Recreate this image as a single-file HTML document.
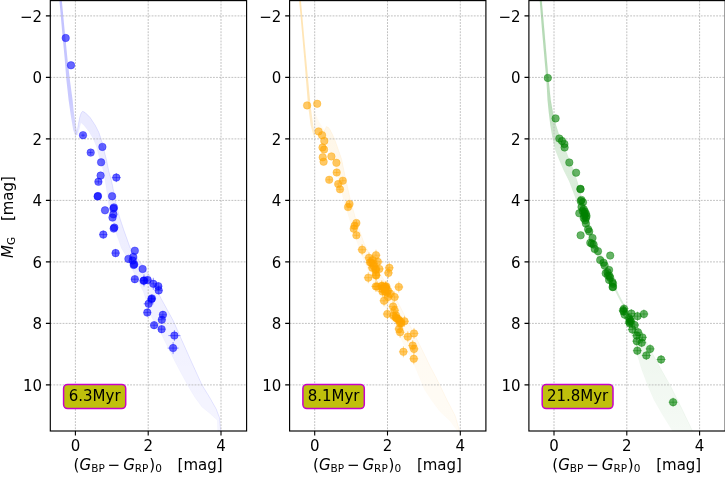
<!DOCTYPE html>
<html><head><meta charset="utf-8"><title>CMD</title>
<style>html,body{margin:0;padding:0;background:#fff}body{width:725px;height:477px;overflow:hidden}</style></head>
<body>
<svg width="725" height="477" viewBox="0 0 725 477" style="display:block;will-change:transform;font-family:'DejaVu Sans','Liberation Sans',sans-serif">
<rect width="725" height="477" fill="#fff"/>
<defs>
<clipPath id="c0"><rect x="50.3" y="0.6" width="196.3" height="430.4"/></clipPath>
<clipPath id="c1"><rect x="289.6" y="0.6" width="196.3" height="430.4"/></clipPath>
<clipPath id="c2"><rect x="528.9" y="0.6" width="196.3" height="430.4"/></clipPath>
</defs>
<g clip-path="url(#c0)">
<linearGradient id="g0_0" gradientUnits="userSpaceOnUse" x1="0" y1="0" x2="0" y2="431"><stop offset="0.0000" stop-color="#0000ff" stop-opacity="0.24"/><stop offset="0.2320" stop-color="#0000ff" stop-opacity="0.21"/><stop offset="0.3109" stop-color="#0000ff" stop-opacity="0.13"/></linearGradient>
<polygon points="61.7,-1.0 64.6,30.0 67.6,60.0 69.9,80.0 72.6,100.0 73.8,112.0 75.7,125.0 77.0,131.5 75.7,136.5 73.2,130.0 70.7,115.0 68.6,100.0 66.4,80.0 64.8,60.0 62.0,30.0 59.3,-1.0" fill="url(#g0_0)" stroke="#0000ff" stroke-opacity="0.000" stroke-width="0.8" stroke-linejoin="round"/>
<linearGradient id="g0_1" gradientUnits="userSpaceOnUse" x1="0" y1="0" x2="0" y2="431"><stop offset="0.2552" stop-color="#0000ff" stop-opacity="0.08"/><stop offset="0.5800" stop-color="#0000ff" stop-opacity="0.065"/><stop offset="1.0000" stop-color="#0000ff" stop-opacity="0.04"/></linearGradient>
<polygon points="76.2,135.0 77.6,128.9 78.6,123.0 79.8,117.0 81.2,112.8 82.6,111.3 85.2,112.6 90.2,117.6 95.2,125.2 99.0,132.7 101.5,140.3 104.0,150.3 106.5,160.0 109.0,172.0 111.4,180.3 114.0,193.0 116.4,205.5 119.5,217.0 124.0,230.6 130.3,248.2 140.0,262.0 150.0,276.0 161.2,298.7 173.3,320.8 182.2,341.0 192.0,363.0 202.0,385.0 210.0,398.0 216.3,409.2 219.6,418.0 220.7,431.0 217.8,431.0 217.4,420.2 210.0,413.5 202.0,407.0 195.0,397.5 188.8,387.2 181.0,373.0 173.4,358.6 161.3,334.0 151.2,316.4 143.5,292.0 132.5,270.0 128.0,259.0 121.4,248.2 115.2,230.6 111.5,217.0 108.9,205.5 107.0,193.0 105.1,180.3 103.5,172.0 101.3,163.0 98.6,155.0 96.5,146.5 93.3,139.0 88.9,131.4 83.9,125.2 80.8,122.6 79.6,128.0 77.6,135.0" fill="url(#g0_1)" stroke="#0000ff" stroke-opacity="0.030" stroke-width="0.8" stroke-linejoin="round"/>
<polyline points="76.2,135.0 77.6,128.9 78.6,123.0 79.8,117.0 81.2,112.8 82.6,111.3 85.2,112.6 90.2,117.6 95.2,125.2 99.0,132.7 101.5,140.3 104.0,150.3 106.5,160.0 109.0,172.0 111.4,180.3 114.0,193.0 116.4,205.5 119.5,217.0 124.0,230.6 130.3,248.2 140.0,262.0 150.0,276.0 161.2,298.7 173.3,320.8 182.2,341.0 192.0,363.0 202.0,385.0 210.0,398.0 216.3,409.2 219.6,418.0 220.7,431.0" fill="none" stroke="#0000ff" stroke-opacity="0.085" stroke-width="0.9" stroke-linejoin="round"/>
</g>
<path d="M75.40 0.6V431.0M148.20 0.6V431.0M221.00 0.6V431.0M50.3 15.90H246.60000000000002M50.3 77.40H246.60000000000002M50.3 138.90H246.60000000000002M50.3 200.40H246.60000000000002M50.3 261.90H246.60000000000002M50.3 323.40H246.60000000000002M50.3 384.90H246.60000000000002" stroke="#b0b0b0" stroke-width="0.8" stroke-dasharray="1.85 1.22" fill="none"/>
<g clip-path="url(#c0)" fill="#0000ff" fill-opacity="0.6" stroke="#0000ff" stroke-opacity="0.6" stroke-width="0.7">
<circle cx="65.7" cy="38.0" r="3.75" stroke-width="0.9" stroke-opacity="0.4"/>
<circle cx="71.0" cy="65.3" r="3.75" stroke-width="0.9" stroke-opacity="0.4"/>
<circle cx="83.0" cy="135.2" r="3.75" stroke-width="0.9" stroke-opacity="0.4"/>
<circle cx="102.4" cy="146.9" r="3.75" stroke-width="0.9" stroke-opacity="0.4"/>
<circle cx="90.7" cy="152.6" r="3.75" stroke-width="0.9" stroke-opacity="0.4"/>
<circle cx="101.1" cy="162.3" r="3.75" stroke-width="0.9" stroke-opacity="0.4"/>
<circle cx="100.6" cy="175.6" r="3.75" stroke-width="0.9" stroke-opacity="0.4"/>
<circle cx="116.3" cy="177.6" r="3.75" stroke-width="0.9" stroke-opacity="0.4"/>
<circle cx="98.4" cy="181.8" r="3.75" stroke-width="0.9" stroke-opacity="0.4"/>
<circle cx="98.0" cy="196.0" r="3.75" stroke-width="0.9" stroke-opacity="0.4"/>
<circle cx="97.6" cy="196.4" r="3.75" stroke-width="0.9" stroke-opacity="0.4"/>
<circle cx="112.1" cy="196.2" r="3.75" stroke-width="0.9" stroke-opacity="0.4"/>
<circle cx="105.0" cy="210.3" r="3.75" stroke-width="0.9" stroke-opacity="0.4"/>
<circle cx="113.9" cy="207.4" r="3.75" stroke-width="0.9" stroke-opacity="0.4"/>
<circle cx="113.5" cy="208.6" r="3.75" stroke-width="0.9" stroke-opacity="0.4"/>
<circle cx="113.4" cy="214.3" r="3.75" stroke-width="0.9" stroke-opacity="0.4"/>
<circle cx="112.5" cy="217.6" r="3.75" stroke-width="0.9" stroke-opacity="0.4"/>
<circle cx="114.3" cy="227.6" r="3.75" stroke-width="0.9" stroke-opacity="0.4"/>
<circle cx="113.7" cy="228.6" r="3.75" stroke-width="0.9" stroke-opacity="0.4"/>
<circle cx="103.3" cy="234.6" r="3.75" stroke-width="0.9" stroke-opacity="0.4"/>
<circle cx="115.6" cy="253.1" r="3.75" stroke-width="0.9" stroke-opacity="0.4"/>
<circle cx="134.8" cy="250.7" r="3.75" stroke-width="0.9" stroke-opacity="0.4"/>
<circle cx="128.4" cy="258.9" r="3.75" stroke-width="0.9" stroke-opacity="0.4"/>
<circle cx="133.3" cy="256.9" r="3.75" stroke-width="0.9" stroke-opacity="0.4"/>
<circle cx="132.6" cy="260.6" r="3.75" stroke-width="0.9" stroke-opacity="0.4"/>
<circle cx="134.2" cy="264.3" r="3.75" stroke-width="0.9" stroke-opacity="0.4"/>
<circle cx="133.7" cy="265.0" r="3.75" stroke-width="0.9" stroke-opacity="0.4"/>
<circle cx="142.6" cy="269.0" r="3.75" stroke-width="0.9" stroke-opacity="0.4"/>
<circle cx="134.8" cy="279.2" r="3.75" stroke-width="0.9" stroke-opacity="0.4"/>
<circle cx="144.0" cy="280.4" r="3.75" stroke-width="0.9" stroke-opacity="0.4"/>
<circle cx="143.6" cy="280.8" r="3.75" stroke-width="0.9" stroke-opacity="0.4"/>
<circle cx="147.6" cy="280.0" r="3.75" stroke-width="0.9" stroke-opacity="0.4"/>
<circle cx="153.3" cy="283.8" r="3.75" stroke-width="0.9" stroke-opacity="0.4"/>
<circle cx="158.3" cy="286.2" r="3.75" stroke-width="0.9" stroke-opacity="0.4"/>
<circle cx="158.7" cy="290.4" r="3.75" stroke-width="0.9" stroke-opacity="0.4"/>
<circle cx="151.9" cy="298.4" r="3.75" stroke-width="0.9" stroke-opacity="0.4"/>
<circle cx="151.4" cy="299.2" r="3.75" stroke-width="0.9" stroke-opacity="0.4"/>
<circle cx="148.6" cy="303.8" r="3.75" stroke-width="0.9" stroke-opacity="0.4"/>
<circle cx="147.3" cy="312.6" r="3.75" stroke-width="0.9" stroke-opacity="0.4"/>
<circle cx="162.9" cy="314.8" r="3.75" stroke-width="0.9" stroke-opacity="0.4"/>
<circle cx="161.8" cy="319.7" r="3.75" stroke-width="0.9" stroke-opacity="0.4"/>
<circle cx="154.1" cy="325.2" r="3.75" stroke-width="0.9" stroke-opacity="0.4"/>
<circle cx="161.6" cy="329.2" r="3.75" stroke-width="0.9" stroke-opacity="0.4"/>
<circle cx="174.4" cy="335.6" r="3.75" stroke-width="0.9" stroke-opacity="0.4"/>
<circle cx="173.1" cy="348.1" r="3.75" stroke-width="0.9" stroke-opacity="0.4"/>
<path d="M80.8 135.2h4.4M83.0 133.4v3.6M88.2 152.6h5.0M90.7 150.1v5.0M111.8 177.6h9.0M116.3 173.1v9.0M94.9 181.8h7.0M98.4 179.3v5.0M99.3 234.6h8.0M103.3 230.6v8.0M111.6 253.1h8.0M115.6 249.1v8.0M131.0 279.2h7.6M134.8 275.4v7.6M141.0 280.4h6.0M144.0 274.4v12.0M139.8 280.8h7.6M143.6 277.0v7.6M143.8 280.0h7.6M147.6 276.2v7.6M150.3 283.8h6.0M153.3 277.8v12.0M154.5 286.2h7.6M158.3 282.4v7.6M154.9 290.4h7.6M158.7 286.6v7.6M148.1 298.4h7.6M151.9 294.6v7.6M147.6 299.2h7.6M151.4 295.4v7.6M143.6 303.8h10.0M148.6 298.8v10.0M143.5 312.6h7.6M147.3 308.8v7.6M159.1 314.8h7.6M162.9 311.0v7.6M158.0 319.7h7.6M161.8 315.9v7.6M150.3 325.2h7.6M154.1 321.4v7.6M157.8 329.2h7.6M161.6 325.4v7.6M168.4 335.6h12.0M174.4 330.1v11.0M167.6 348.1h11.0M173.1 342.1v12.0" fill="none"/>
</g>
<rect x="50.3" y="0.6" width="196.3" height="430.4" fill="none" stroke="#000" stroke-width="1.15"/>
<path d="M75.40 431.0v4.4M148.20 431.0v4.4M221.00 431.0v4.4M50.3 15.90h-4.4M50.3 77.40h-4.4M50.3 138.90h-4.4M50.3 200.40h-4.4M50.3 261.90h-4.4M50.3 323.40h-4.4M50.3 384.90h-4.4" stroke="#000" stroke-width="1.1" fill="none"/>
<g font-size="15" fill="#000">
<text x="75.40" y="451.1" text-anchor="middle">0</text>
<text x="148.20" y="451.1" text-anchor="middle">2</text>
<text x="221.00" y="451.1" text-anchor="middle">4</text>
<text x="42.00" y="21.50" text-anchor="end">−2</text>
<text x="42.00" y="83.00" text-anchor="end">0</text>
<text x="42.00" y="144.50" text-anchor="end">2</text>
<text x="42.00" y="206.00" text-anchor="end">4</text>
<text x="42.00" y="267.50" text-anchor="end">6</text>
<text x="42.00" y="329.00" text-anchor="end">8</text>
<text x="42.00" y="390.50" text-anchor="end">10</text>
</g>
<g font-size="15" fill="#000">
<text y="469.8"><tspan x="73.6">(</tspan><tspan x="79.6" font-style="italic">G</tspan><tspan x="91.2" dy="2.4" font-size="10.5">BP</tspan><tspan x="107.6" dy="-2.4">−</tspan><tspan x="123.2" font-style="italic">G</tspan><tspan x="134.8" dy="2.4" font-size="10.5">RP</tspan><tspan x="149.2" dy="-2.4">)</tspan><tspan x="155.2" dy="2.4" font-size="10.5">0</tspan><tspan x="177.6" dy="-2.4">[mag]</tspan></text>
</g>
<rect x="63.6" y="384.4" width="62.1" height="24.2" rx="4" fill="#c0c00c" stroke="#c800c8" stroke-width="1.5"/>
<text x="94.7" y="401.1" font-size="15" text-anchor="middle" fill="#000">6.3Myr</text>
<g clip-path="url(#c1)">
<linearGradient id="g1_0" gradientUnits="userSpaceOnUse" x1="0" y1="0" x2="0" y2="431"><stop offset="0.0000" stop-color="#ffa500" stop-opacity="0.3"/><stop offset="0.2320" stop-color="#ffa500" stop-opacity="0.27"/><stop offset="0.3248" stop-color="#ffa500" stop-opacity="0.15"/></linearGradient>
<polygon points="300.8,-1.0 304.0,35.0 307.2,70.0 310.5,105.0 313.2,125.0 314.8,134.0 314.5,138.0 313.0,134.0 310.6,125.0 308.0,105.0 305.2,70.0 302.2,35.0 299.0,-1.0" fill="url(#g1_0)" stroke="#ffa500" stroke-opacity="0.000" stroke-width="0.8" stroke-linejoin="round"/>
<linearGradient id="g1_1" gradientUnits="userSpaceOnUse" x1="0" y1="0" x2="0" y2="431"><stop offset="0.2320" stop-color="#ffa500" stop-opacity="0.06"/><stop offset="0.3248" stop-color="#ffa500" stop-opacity="0.05"/></linearGradient>
<polygon points="312.8,108.0 315.0,113.0 318.9,121.4 325.2,131.4 322.0,135.0 316.5,131.0 314.0,124.0" fill="url(#g1_1)" stroke="#ffa500" stroke-opacity="0.010" stroke-width="0.8" stroke-linejoin="round"/>
<linearGradient id="g1_2" gradientUnits="userSpaceOnUse" x1="0" y1="0" x2="0" y2="431"><stop offset="0.2900" stop-color="#ffa500" stop-opacity="0.09"/><stop offset="0.5800" stop-color="#ffa500" stop-opacity="0.06"/><stop offset="1.0000" stop-color="#ffa500" stop-opacity="0.04"/></linearGradient>
<polygon points="323.2,134.0 324.6,130.0 326.4,126.4 328.5,127.5 330.4,130.2 334.6,139.0 338.6,150.3 341.6,159.1 345.0,175.6 350.0,198.2 356.0,220.0 364.0,243.0 374.0,263.0 385.0,282.0 396.8,300.0 408.0,322.0 417.8,341.0 430.0,366.0 437.6,380.6 447.0,400.0 455.2,415.8 459.6,431.0 457.4,431.0 450.0,421.0 439.8,411.4 432.0,401.0 424.4,389.4 413.4,363.0 404.0,345.0 395.0,327.0 386.0,309.0 378.0,292.0 370.0,275.0 362.0,256.0 355.0,237.0 349.0,218.0 343.0,198.2 338.0,176.0 332.0,156.0 326.5,144.0 324.0,138.5 321.5,137.0" fill="url(#g1_2)" stroke="#ffa500" stroke-opacity="0.021" stroke-width="0.8" stroke-linejoin="round"/>
<polyline points="323.2,134.0 324.6,130.0 326.4,126.4 328.5,127.5 330.4,130.2 334.6,139.0 338.6,150.3 341.6,159.1 345.0,175.6 350.0,198.2 356.0,220.0 364.0,243.0 374.0,263.0 385.0,282.0 396.8,300.0 408.0,322.0 417.8,341.0 430.0,366.0 437.6,380.6 447.0,400.0 455.2,415.8 459.6,431.0" fill="none" stroke="#ffa500" stroke-opacity="0.06" stroke-width="0.9" stroke-linejoin="round"/>
</g>
<path d="M314.70 0.6V431.0M387.50 0.6V431.0M460.30 0.6V431.0M289.6 15.90H485.90000000000003M289.6 77.40H485.90000000000003M289.6 138.90H485.90000000000003M289.6 200.40H485.90000000000003M289.6 261.90H485.90000000000003M289.6 323.40H485.90000000000003M289.6 384.90H485.90000000000003" stroke="#b0b0b0" stroke-width="0.8" stroke-dasharray="1.85 1.22" fill="none"/>
<g clip-path="url(#c1)" fill="#ffa500" fill-opacity="0.6" stroke="#ffa500" stroke-opacity="0.6" stroke-width="0.7">
<circle cx="307.1" cy="105.4" r="3.75" stroke-width="0.9" stroke-opacity="0.4"/>
<circle cx="317.2" cy="103.8" r="3.75" stroke-width="0.9" stroke-opacity="0.4"/>
<circle cx="318.6" cy="131.4" r="3.75" stroke-width="0.9" stroke-opacity="0.4"/>
<circle cx="322.1" cy="135.2" r="3.75" stroke-width="0.9" stroke-opacity="0.4"/>
<circle cx="324.3" cy="140.9" r="3.75" stroke-width="0.9" stroke-opacity="0.4"/>
<circle cx="322.5" cy="147.5" r="3.75" stroke-width="0.9" stroke-opacity="0.4"/>
<circle cx="324.1" cy="149.5" r="3.75" stroke-width="0.9" stroke-opacity="0.4"/>
<circle cx="322.7" cy="157.3" r="3.75" stroke-width="0.9" stroke-opacity="0.4"/>
<circle cx="323.6" cy="161.7" r="3.75" stroke-width="0.9" stroke-opacity="0.4"/>
<circle cx="331.4" cy="156.4" r="3.75" stroke-width="0.9" stroke-opacity="0.4"/>
<circle cx="336.4" cy="162.8" r="3.75" stroke-width="0.9" stroke-opacity="0.4"/>
<circle cx="336.7" cy="172.5" r="3.75" stroke-width="0.9" stroke-opacity="0.4"/>
<circle cx="329.2" cy="179.8" r="3.75" stroke-width="0.9" stroke-opacity="0.4"/>
<circle cx="342.8" cy="180.7" r="3.75" stroke-width="0.9" stroke-opacity="0.4"/>
<circle cx="338.2" cy="184.0" r="3.75" stroke-width="0.9" stroke-opacity="0.4"/>
<circle cx="340.0" cy="189.3" r="3.75" stroke-width="0.9" stroke-opacity="0.4"/>
<circle cx="349.5" cy="204.0" r="3.75" stroke-width="0.9" stroke-opacity="0.4"/>
<circle cx="348.0" cy="207.1" r="3.75" stroke-width="0.9" stroke-opacity="0.4"/>
<circle cx="356.4" cy="223.0" r="3.75" stroke-width="0.9" stroke-opacity="0.4"/>
<circle cx="354.6" cy="225.8" r="3.75" stroke-width="0.9" stroke-opacity="0.4"/>
<circle cx="353.7" cy="228.7" r="3.75" stroke-width="0.9" stroke-opacity="0.4"/>
<circle cx="356.4" cy="235.3" r="3.75" stroke-width="0.9" stroke-opacity="0.4"/>
<circle cx="362.1" cy="249.7" r="3.75" stroke-width="0.9" stroke-opacity="0.4"/>
<circle cx="376.0" cy="255.2" r="3.75" stroke-width="0.9" stroke-opacity="0.4"/>
<circle cx="369.0" cy="257.8" r="3.75" stroke-width="0.9" stroke-opacity="0.4"/>
<circle cx="370.0" cy="262.3" r="3.75" stroke-width="0.9" stroke-opacity="0.4"/>
<circle cx="373.4" cy="263.4" r="3.75" stroke-width="0.9" stroke-opacity="0.4"/>
<circle cx="377.8" cy="261.8" r="3.75" stroke-width="0.9" stroke-opacity="0.4"/>
<circle cx="372.3" cy="267.8" r="3.75" stroke-width="0.9" stroke-opacity="0.4"/>
<circle cx="379.3" cy="268.9" r="3.75" stroke-width="0.9" stroke-opacity="0.4"/>
<circle cx="375.6" cy="270.0" r="3.75" stroke-width="0.9" stroke-opacity="0.4"/>
<circle cx="389.3" cy="267.8" r="3.75" stroke-width="0.9" stroke-opacity="0.4"/>
<circle cx="388.4" cy="272.9" r="3.75" stroke-width="0.9" stroke-opacity="0.4"/>
<circle cx="376.2" cy="275.5" r="3.75" stroke-width="0.9" stroke-opacity="0.4"/>
<circle cx="368.3" cy="277.7" r="3.75" stroke-width="0.9" stroke-opacity="0.4"/>
<circle cx="377.1" cy="286.5" r="3.75" stroke-width="0.9" stroke-opacity="0.4"/>
<circle cx="382.2" cy="286.1" r="3.75" stroke-width="0.9" stroke-opacity="0.4"/>
<circle cx="385.5" cy="287.0" r="3.75" stroke-width="0.9" stroke-opacity="0.4"/>
<circle cx="398.8" cy="287.0" r="3.75" stroke-width="0.9" stroke-opacity="0.4"/>
<circle cx="375.8" cy="274.9" r="3.75" stroke-width="0.9" stroke-opacity="0.4"/>
<circle cx="375.8" cy="286.4" r="3.75" stroke-width="0.9" stroke-opacity="0.4"/>
<circle cx="381.4" cy="286.0" r="3.75" stroke-width="0.9" stroke-opacity="0.4"/>
<circle cx="385.3" cy="287.1" r="3.75" stroke-width="0.9" stroke-opacity="0.4"/>
<circle cx="384.7" cy="288.8" r="3.75" stroke-width="0.9" stroke-opacity="0.4"/>
<circle cx="386.2" cy="286.2" r="3.75" stroke-width="0.9" stroke-opacity="0.4"/>
<circle cx="382.5" cy="291.5" r="3.75" stroke-width="0.9" stroke-opacity="0.4"/>
<circle cx="386.9" cy="292.6" r="3.75" stroke-width="0.9" stroke-opacity="0.4"/>
<circle cx="390.2" cy="293.7" r="3.75" stroke-width="0.9" stroke-opacity="0.4"/>
<circle cx="394.6" cy="297.0" r="3.75" stroke-width="0.9" stroke-opacity="0.4"/>
<circle cx="384.0" cy="300.8" r="3.75" stroke-width="0.9" stroke-opacity="0.4"/>
<circle cx="388.0" cy="297.0" r="3.75" stroke-width="0.9" stroke-opacity="0.4"/>
<circle cx="393.1" cy="306.5" r="3.75" stroke-width="0.9" stroke-opacity="0.4"/>
<circle cx="394.6" cy="310.3" r="3.75" stroke-width="0.9" stroke-opacity="0.4"/>
<circle cx="387.3" cy="314.0" r="3.75" stroke-width="0.9" stroke-opacity="0.4"/>
<circle cx="393.5" cy="315.8" r="3.75" stroke-width="0.9" stroke-opacity="0.4"/>
<circle cx="397.9" cy="319.1" r="3.75" stroke-width="0.9" stroke-opacity="0.4"/>
<circle cx="404.5" cy="321.3" r="3.75" stroke-width="0.9" stroke-opacity="0.4"/>
<circle cx="400.1" cy="323.5" r="3.75" stroke-width="0.9" stroke-opacity="0.4"/>
<circle cx="399.0" cy="329.0" r="3.75" stroke-width="0.9" stroke-opacity="0.4"/>
<circle cx="400.1" cy="332.3" r="3.75" stroke-width="0.9" stroke-opacity="0.4"/>
<circle cx="414.0" cy="333.4" r="3.75" stroke-width="0.9" stroke-opacity="0.4"/>
<circle cx="407.8" cy="336.7" r="3.75" stroke-width="0.9" stroke-opacity="0.4"/>
<circle cx="412.7" cy="345.6" r="3.75" stroke-width="0.9" stroke-opacity="0.4"/>
<circle cx="414.0" cy="348.9" r="3.75" stroke-width="0.9" stroke-opacity="0.4"/>
<circle cx="403.4" cy="351.8" r="3.75" stroke-width="0.9" stroke-opacity="0.4"/>
<circle cx="413.8" cy="358.8" r="3.75" stroke-width="0.9" stroke-opacity="0.4"/>
<circle cx="395.7" cy="317.5" r="3.75" stroke-width="0.9" stroke-opacity="0.4"/>
<circle cx="401.2" cy="322.0" r="3.75" stroke-width="0.9" stroke-opacity="0.4"/>
<circle cx="383.6" cy="287.1" r="3.75" stroke-width="0.9" stroke-opacity="0.4"/>
<circle cx="385.8" cy="288.4" r="3.75" stroke-width="0.9" stroke-opacity="0.4"/>
<circle cx="382.5" cy="289.3" r="3.75" stroke-width="0.9" stroke-opacity="0.4"/>
<circle cx="388.0" cy="290.6" r="3.75" stroke-width="0.9" stroke-opacity="0.4"/>
<circle cx="384.9" cy="291.5" r="3.75" stroke-width="0.9" stroke-opacity="0.4"/>
<circle cx="396.8" cy="318.4" r="3.75" stroke-width="0.9" stroke-opacity="0.4"/>
<circle cx="399.5" cy="320.6" r="3.75" stroke-width="0.9" stroke-opacity="0.4"/>
<circle cx="401.2" cy="323.3" r="3.75" stroke-width="0.9" stroke-opacity="0.4"/>
<circle cx="395.9" cy="315.3" r="3.75" stroke-width="0.9" stroke-opacity="0.4"/>
<circle cx="371.2" cy="262.7" r="3.75" stroke-width="0.9" stroke-opacity="0.4"/>
<circle cx="374.0" cy="266.2" r="3.75" stroke-width="0.9" stroke-opacity="0.4"/>
<circle cx="375.8" cy="268.9" r="3.75" stroke-width="0.9" stroke-opacity="0.4"/>
<circle cx="372.7" cy="260.0" r="3.75" stroke-width="0.9" stroke-opacity="0.4"/>
<path d="M333.7 172.5h6.0M336.7 169.5v6.0M326.2 179.8h6.0M329.2 176.8v6.0M339.8 180.7h6.0M342.8 177.7v6.0M335.2 184.0h6.0M338.2 181.0v6.0M337.0 189.3h6.0M340.0 186.3v6.0M346.5 204.0h6.0M349.5 201.0v6.0M345.0 207.1h6.0M348.0 204.1v6.0M353.4 223.0h6.0M356.4 220.0v6.0M351.6 225.8h6.0M354.6 222.8v6.0M350.7 228.7h6.0M353.7 225.7v6.0M353.4 235.3h6.0M356.4 232.3v6.0M357.6 249.7h9.0M362.1 244.2v11.0M371.5 255.2h9.0M376.0 249.7v11.0M364.5 257.8h9.0M369.0 252.3v11.0M365.5 262.3h9.0M370.0 256.8v11.0M368.9 263.4h9.0M373.4 257.9v11.0M373.3 261.8h9.0M377.8 256.3v11.0M367.8 267.8h9.0M372.3 262.3v11.0M374.8 268.9h9.0M379.3 263.4v11.0M371.1 270.0h9.0M375.6 264.5v11.0M384.8 267.8h9.0M389.3 262.3v11.0M383.9 272.9h9.0M388.4 267.4v11.0M371.7 275.5h9.0M376.2 270.0v11.0M363.8 277.7h9.0M368.3 272.2v11.0M372.6 286.5h9.0M377.1 281.0v11.0M377.7 286.1h9.0M382.2 280.6v11.0M381.0 287.0h9.0M385.5 281.5v11.0M394.3 287.0h9.0M398.8 281.5v11.0M371.3 274.9h9.0M375.8 269.4v11.0M371.3 286.4h9.0M375.8 280.9v11.0M376.9 286.0h9.0M381.4 280.5v11.0M380.8 287.1h9.0M385.3 281.6v11.0M380.2 288.8h9.0M384.7 283.3v11.0M381.7 286.2h9.0M386.2 280.7v11.0M378.0 291.5h9.0M382.5 286.0v11.0M382.4 292.6h9.0M386.9 287.1v11.0M385.7 293.7h9.0M390.2 288.2v11.0M390.1 297.0h9.0M394.6 291.5v11.0M379.5 300.8h9.0M384.0 295.3v11.0M383.5 297.0h9.0M388.0 291.5v11.0M388.6 306.5h9.0M393.1 301.0v11.0M390.1 310.3h9.0M394.6 304.8v11.0M382.8 314.0h9.0M387.3 308.5v11.0M389.0 315.8h9.0M393.5 310.3v11.0M393.4 319.1h9.0M397.9 313.6v11.0M400.0 321.3h9.0M404.5 315.8v11.0M395.6 323.5h9.0M400.1 318.0v11.0M394.5 329.0h9.0M399.0 323.5v11.0M395.6 332.3h9.0M400.1 326.8v11.0M409.5 333.4h9.0M414.0 327.9v11.0M403.3 336.7h9.0M407.8 331.2v11.0M408.2 345.6h9.0M412.7 340.1v11.0M409.5 348.9h9.0M414.0 343.4v11.0M398.9 351.8h9.0M403.4 346.3v11.0M409.3 358.8h9.0M413.8 353.3v11.0M391.2 317.5h9.0M395.7 312.0v11.0M396.7 322.0h9.0M401.2 316.5v11.0M379.1 287.1h9.0M383.6 281.6v11.0M381.3 288.4h9.0M385.8 282.9v11.0M378.0 289.3h9.0M382.5 283.8v11.0M383.5 290.6h9.0M388.0 285.1v11.0M380.4 291.5h9.0M384.9 286.0v11.0M392.3 318.4h9.0M396.8 312.9v11.0M395.0 320.6h9.0M399.5 315.1v11.0M396.7 323.3h9.0M401.2 317.8v11.0M391.4 315.3h9.0M395.9 309.8v11.0M366.7 262.7h9.0M371.2 257.2v11.0M369.5 266.2h9.0M374.0 260.7v11.0M371.3 268.9h9.0M375.8 263.4v11.0M368.2 260.0h9.0M372.7 254.5v11.0" fill="none"/>
</g>
<rect x="289.6" y="0.6" width="196.3" height="430.4" fill="none" stroke="#000" stroke-width="1.15"/>
<path d="M314.70 431.0v4.4M387.50 431.0v4.4M460.30 431.0v4.4M289.6 15.90h-4.4M289.6 77.40h-4.4M289.6 138.90h-4.4M289.6 200.40h-4.4M289.6 261.90h-4.4M289.6 323.40h-4.4M289.6 384.90h-4.4" stroke="#000" stroke-width="1.1" fill="none"/>
<g font-size="15" fill="#000">
<text x="314.70" y="451.1" text-anchor="middle">0</text>
<text x="387.50" y="451.1" text-anchor="middle">2</text>
<text x="460.30" y="451.1" text-anchor="middle">4</text>
<text x="281.30" y="21.50" text-anchor="end">−2</text>
<text x="281.30" y="83.00" text-anchor="end">0</text>
<text x="281.30" y="144.50" text-anchor="end">2</text>
<text x="281.30" y="206.00" text-anchor="end">4</text>
<text x="281.30" y="267.50" text-anchor="end">6</text>
<text x="281.30" y="329.00" text-anchor="end">8</text>
<text x="281.30" y="390.50" text-anchor="end">10</text>
</g>
<g font-size="15" fill="#000">
<text y="469.8"><tspan x="312.9">(</tspan><tspan x="318.9" font-style="italic">G</tspan><tspan x="330.5" dy="2.4" font-size="10.5">BP</tspan><tspan x="346.9" dy="-2.4">−</tspan><tspan x="362.5" font-style="italic">G</tspan><tspan x="374.1" dy="2.4" font-size="10.5">RP</tspan><tspan x="388.5" dy="-2.4">)</tspan><tspan x="394.5" dy="2.4" font-size="10.5">0</tspan><tspan x="416.9" dy="-2.4">[mag]</tspan></text>
</g>
<rect x="302.9" y="384.4" width="61.4" height="24.2" rx="4" fill="#c0c00c" stroke="#c800c8" stroke-width="1.5"/>
<text x="333.6" y="401.1" font-size="15" text-anchor="middle" fill="#000">8.1Myr</text>
<g clip-path="url(#c2)">
<linearGradient id="g2_0" gradientUnits="userSpaceOnUse" x1="0" y1="0" x2="0" y2="431"><stop offset="0.0000" stop-color="#008000" stop-opacity="0.3"/><stop offset="0.2552" stop-color="#008000" stop-opacity="0.26"/><stop offset="0.3480" stop-color="#008000" stop-opacity="0.14"/><stop offset="0.6961" stop-color="#008000" stop-opacity="0.14"/><stop offset="0.7657" stop-color="#008000" stop-opacity="0.07"/><stop offset="1.0000" stop-color="#008000" stop-opacity="0.04"/></linearGradient>
<polygon points="541.6,-1.0 544.3,30.0 547.3,65.0 548.6,80.0 550.7,100.0 553.0,113.0 556.0,125.2 560.0,137.7 565.6,150.3 569.0,159.1 573.5,170.0 577.8,183.1 581.5,198.2 585.5,212.0 590.0,226.0 596.0,242.0 602.0,257.0 608.0,271.0 614.0,284.0 619.0,295.0 624.7,305.8 632.0,317.0 639.0,329.0 646.0,341.0 652.3,353.3 662.0,371.0 671.0,387.0 682.0,409.0 692.5,431.0 672.5,431.0 662.0,414.0 654.0,400.0 647.5,385.0 641.3,368.8 636.8,353.3 632.0,337.0 627.0,320.0 623.2,306.3 617.9,296.5 612.4,285.5 604.5,273.5 598.0,259.0 591.5,243.0 585.5,227.0 580.0,212.0 575.5,198.2 569.0,181.0 563.5,170.0 558.8,159.1 555.3,150.3 552.4,137.7 550.3,125.2 548.8,113.0 547.5,100.0 546.4,80.0 545.0,65.0 542.0,30.0 539.6,-1.0" fill="url(#g2_0)" stroke="#008000" stroke-opacity="0.014" stroke-width="0.8" stroke-linejoin="round"/>
<polyline points="541.6,-1.0 544.3,30.0 547.3,65.0 548.6,80.0 550.7,100.0 553.0,113.0 556.0,125.2 560.0,137.7 565.6,150.3 569.0,159.1 573.5,170.0 577.8,183.1 581.5,198.2 585.5,212.0 590.0,226.0 596.0,242.0 602.0,257.0 608.0,271.0 614.0,284.0 619.0,295.0 624.7,305.8 632.0,317.0 639.0,329.0 646.0,341.0 652.3,353.3 662.0,371.0 671.0,387.0 682.0,409.0 692.5,431.0" fill="none" stroke="#008000" stroke-opacity="0.04" stroke-width="0.9" stroke-linejoin="round"/>
</g>
<path d="M554.00 0.6V431.0M626.80 0.6V431.0M699.60 0.6V431.0M528.9 15.90H725.2M528.9 77.40H725.2M528.9 138.90H725.2M528.9 200.40H725.2M528.9 261.90H725.2M528.9 323.40H725.2M528.9 384.90H725.2" stroke="#b0b0b0" stroke-width="0.8" stroke-dasharray="1.85 1.22" fill="none"/>
<g clip-path="url(#c2)" fill="#008000" fill-opacity="0.6" stroke="#008000" stroke-opacity="0.6" stroke-width="0.7">
<circle cx="547.8" cy="77.9" r="3.75" stroke-width="0.9" stroke-opacity="0.4"/>
<circle cx="555.6" cy="118.4" r="3.75" stroke-width="0.9" stroke-opacity="0.4"/>
<circle cx="559.3" cy="138.5" r="3.75" stroke-width="0.9" stroke-opacity="0.4"/>
<circle cx="562.0" cy="140.9" r="3.75" stroke-width="0.9" stroke-opacity="0.4"/>
<circle cx="564.4" cy="144.0" r="3.75" stroke-width="0.9" stroke-opacity="0.4"/>
<circle cx="564.6" cy="147.5" r="3.75" stroke-width="0.9" stroke-opacity="0.4"/>
<circle cx="569.3" cy="162.5" r="3.75" stroke-width="0.9" stroke-opacity="0.4"/>
<circle cx="576.1" cy="172.7" r="3.75" stroke-width="0.9" stroke-opacity="0.4"/>
<circle cx="580.5" cy="189.3" r="3.75" stroke-width="0.9" stroke-opacity="0.4"/>
<circle cx="581.4" cy="199.9" r="3.75" stroke-width="0.9" stroke-opacity="0.4"/>
<circle cx="580.4" cy="188.8" r="3.75" stroke-width="0.9" stroke-opacity="0.4"/>
<circle cx="580.8" cy="201.1" r="3.75" stroke-width="0.9" stroke-opacity="0.4"/>
<circle cx="583.0" cy="202.2" r="3.75" stroke-width="0.9" stroke-opacity="0.4"/>
<circle cx="581.5" cy="207.1" r="3.75" stroke-width="0.9" stroke-opacity="0.4"/>
<circle cx="583.7" cy="209.3" r="3.75" stroke-width="0.9" stroke-opacity="0.4"/>
<circle cx="584.8" cy="211.5" r="3.75" stroke-width="0.9" stroke-opacity="0.4"/>
<circle cx="585.9" cy="213.7" r="3.75" stroke-width="0.9" stroke-opacity="0.4"/>
<circle cx="584.3" cy="215.9" r="3.75" stroke-width="0.9" stroke-opacity="0.4"/>
<circle cx="586.5" cy="215.9" r="3.75" stroke-width="0.9" stroke-opacity="0.4"/>
<circle cx="583.7" cy="218.1" r="3.75" stroke-width="0.9" stroke-opacity="0.4"/>
<circle cx="585.2" cy="220.3" r="3.75" stroke-width="0.9" stroke-opacity="0.4"/>
<circle cx="579.3" cy="213.3" r="3.75" stroke-width="0.9" stroke-opacity="0.4"/>
<circle cx="582.6" cy="211.0" r="3.75" stroke-width="0.9" stroke-opacity="0.4"/>
<circle cx="584.3" cy="213.3" r="3.75" stroke-width="0.9" stroke-opacity="0.4"/>
<circle cx="586.1" cy="217.7" r="3.75" stroke-width="0.9" stroke-opacity="0.4"/>
<circle cx="585.9" cy="223.6" r="3.75" stroke-width="0.9" stroke-opacity="0.4"/>
<circle cx="588.1" cy="229.2" r="3.75" stroke-width="0.9" stroke-opacity="0.4"/>
<circle cx="589.2" cy="231.4" r="3.75" stroke-width="0.9" stroke-opacity="0.4"/>
<circle cx="580.6" cy="235.3" r="3.75" stroke-width="0.9" stroke-opacity="0.4"/>
<circle cx="592.5" cy="238.0" r="3.75" stroke-width="0.9" stroke-opacity="0.4"/>
<circle cx="590.3" cy="242.8" r="3.75" stroke-width="0.9" stroke-opacity="0.4"/>
<circle cx="593.6" cy="244.6" r="3.75" stroke-width="0.9" stroke-opacity="0.4"/>
<circle cx="591.8" cy="243.7" r="3.75" stroke-width="0.9" stroke-opacity="0.4"/>
<circle cx="594.7" cy="249.0" r="3.75" stroke-width="0.9" stroke-opacity="0.4"/>
<circle cx="598.0" cy="251.2" r="3.75" stroke-width="0.9" stroke-opacity="0.4"/>
<circle cx="610.2" cy="255.6" r="3.75" stroke-width="0.9" stroke-opacity="0.4"/>
<circle cx="600.2" cy="260.1" r="3.75" stroke-width="0.9" stroke-opacity="0.4"/>
<circle cx="603.5" cy="262.7" r="3.75" stroke-width="0.9" stroke-opacity="0.4"/>
<circle cx="604.6" cy="265.6" r="3.75" stroke-width="0.9" stroke-opacity="0.4"/>
<circle cx="609.1" cy="270.0" r="3.75" stroke-width="0.9" stroke-opacity="0.4"/>
<circle cx="605.7" cy="273.3" r="3.75" stroke-width="0.9" stroke-opacity="0.4"/>
<circle cx="608.0" cy="275.5" r="3.75" stroke-width="0.9" stroke-opacity="0.4"/>
<circle cx="610.2" cy="277.7" r="3.75" stroke-width="0.9" stroke-opacity="0.4"/>
<circle cx="609.1" cy="279.9" r="3.75" stroke-width="0.9" stroke-opacity="0.4"/>
<circle cx="612.4" cy="282.1" r="3.75" stroke-width="0.9" stroke-opacity="0.4"/>
<circle cx="613.0" cy="287.0" r="3.75" stroke-width="0.9" stroke-opacity="0.4"/>
<circle cx="607.5" cy="272.2" r="3.75" stroke-width="0.9" stroke-opacity="0.4"/>
<circle cx="609.5" cy="275.9" r="3.75" stroke-width="0.9" stroke-opacity="0.4"/>
<circle cx="613.0" cy="283.8" r="3.75" stroke-width="0.9" stroke-opacity="0.4"/>
<circle cx="612.6" cy="287.1" r="3.75" stroke-width="0.9" stroke-opacity="0.4"/>
<circle cx="624.0" cy="308.7" r="3.75" stroke-width="0.9" stroke-opacity="0.4"/>
<circle cx="623.6" cy="311.4" r="3.75" stroke-width="0.9" stroke-opacity="0.4"/>
<circle cx="624.7" cy="314.7" r="3.75" stroke-width="0.9" stroke-opacity="0.4"/>
<circle cx="631.3" cy="313.6" r="3.75" stroke-width="0.9" stroke-opacity="0.4"/>
<circle cx="637.5" cy="316.2" r="3.75" stroke-width="0.9" stroke-opacity="0.4"/>
<circle cx="643.9" cy="314.0" r="3.75" stroke-width="0.9" stroke-opacity="0.4"/>
<circle cx="623.2" cy="310.3" r="3.75" stroke-width="0.9" stroke-opacity="0.4"/>
<circle cx="629.1" cy="318.0" r="3.75" stroke-width="0.9" stroke-opacity="0.4"/>
<circle cx="630.7" cy="321.3" r="3.75" stroke-width="0.9" stroke-opacity="0.4"/>
<circle cx="629.8" cy="323.5" r="3.75" stroke-width="0.9" stroke-opacity="0.4"/>
<circle cx="634.6" cy="325.0" r="3.75" stroke-width="0.9" stroke-opacity="0.4"/>
<circle cx="632.4" cy="329.5" r="3.75" stroke-width="0.9" stroke-opacity="0.4"/>
<circle cx="630.2" cy="319.7" r="3.75" stroke-width="0.9" stroke-opacity="0.4"/>
<circle cx="629.3" cy="322.0" r="3.75" stroke-width="0.9" stroke-opacity="0.4"/>
<circle cx="638.0" cy="332.3" r="3.75" stroke-width="0.9" stroke-opacity="0.4"/>
<circle cx="636.8" cy="335.6" r="3.75" stroke-width="0.9" stroke-opacity="0.4"/>
<circle cx="642.4" cy="337.4" r="3.75" stroke-width="0.9" stroke-opacity="0.4"/>
<circle cx="636.8" cy="341.2" r="3.75" stroke-width="0.9" stroke-opacity="0.4"/>
<circle cx="641.7" cy="342.7" r="3.75" stroke-width="0.9" stroke-opacity="0.4"/>
<circle cx="637.3" cy="350.7" r="3.75" stroke-width="0.9" stroke-opacity="0.4"/>
<circle cx="650.1" cy="348.9" r="3.75" stroke-width="0.9" stroke-opacity="0.4"/>
<circle cx="646.3" cy="355.5" r="3.75" stroke-width="0.9" stroke-opacity="0.4"/>
<circle cx="661.1" cy="359.5" r="3.75" stroke-width="0.9" stroke-opacity="0.4"/>
<circle cx="673.1" cy="402.2" r="3.75" stroke-width="0.9" stroke-opacity="0.4"/>
<path d="M619.5 308.7h9.0M624.0 304.2v9.0M619.1 311.4h9.0M623.6 306.9v9.0M620.2 314.7h9.0M624.7 310.2v9.0M626.8 313.6h9.0M631.3 309.1v9.0M633.0 316.2h9.0M637.5 311.7v9.0M639.4 314.0h9.0M643.9 309.5v9.0M618.7 310.3h9.0M623.2 305.8v9.0M624.6 318.0h9.0M629.1 313.5v9.0M626.2 321.3h9.0M630.7 316.8v9.0M625.3 323.5h9.0M629.8 319.0v9.0M630.1 325.0h9.0M634.6 320.5v9.0M627.9 329.5h9.0M632.4 325.0v9.0M625.7 319.7h9.0M630.2 315.2v9.0M624.8 322.0h9.0M629.3 317.5v9.0M633.5 332.3h9.0M638.0 327.8v9.0M632.3 335.6h9.0M636.8 331.1v9.0M637.9 337.4h9.0M642.4 332.9v9.0M632.3 341.2h9.0M636.8 336.7v9.0M637.2 342.7h9.0M641.7 338.2v9.0M632.8 350.7h9.0M637.3 346.2v9.0M645.6 348.9h9.0M650.1 344.4v9.0M641.8 355.5h9.0M646.3 351.0v9.0M656.6 359.5h9.0M661.1 355.0v9.0M668.6 402.2h9.0M673.1 397.7v9.0" fill="none"/>
</g>
<rect x="528.9" y="0.6" width="196.3" height="430.4" fill="none" stroke="#000" stroke-width="1.15"/>
<path d="M554.00 431.0v4.4M626.80 431.0v4.4M699.60 431.0v4.4M528.9 15.90h-4.4M528.9 77.40h-4.4M528.9 138.90h-4.4M528.9 200.40h-4.4M528.9 261.90h-4.4M528.9 323.40h-4.4M528.9 384.90h-4.4" stroke="#000" stroke-width="1.1" fill="none"/>
<g font-size="15" fill="#000">
<text x="554.00" y="451.1" text-anchor="middle">0</text>
<text x="626.80" y="451.1" text-anchor="middle">2</text>
<text x="699.60" y="451.1" text-anchor="middle">4</text>
<text x="520.60" y="21.50" text-anchor="end">−2</text>
<text x="520.60" y="83.00" text-anchor="end">0</text>
<text x="520.60" y="144.50" text-anchor="end">2</text>
<text x="520.60" y="206.00" text-anchor="end">4</text>
<text x="520.60" y="267.50" text-anchor="end">6</text>
<text x="520.60" y="329.00" text-anchor="end">8</text>
<text x="520.60" y="390.50" text-anchor="end">10</text>
</g>
<g font-size="15" fill="#000">
<text y="469.8"><tspan x="552.2">(</tspan><tspan x="558.2" font-style="italic">G</tspan><tspan x="569.8" dy="2.4" font-size="10.5">BP</tspan><tspan x="586.2" dy="-2.4">−</tspan><tspan x="601.8" font-style="italic">G</tspan><tspan x="613.4" dy="2.4" font-size="10.5">RP</tspan><tspan x="627.8" dy="-2.4">)</tspan><tspan x="633.8" dy="2.4" font-size="10.5">0</tspan><tspan x="656.2" dy="-2.4">[mag]</tspan></text>
</g>
<rect x="542.2" y="384.4" width="70.8" height="24.2" rx="4" fill="#c0c00c" stroke="#c800c8" stroke-width="1.5"/>
<text x="577.6" y="401.1" font-size="15" text-anchor="middle" fill="#000">21.8Myr</text>
<g transform="translate(12.5,258) rotate(-90)" font-size="15" fill="#000"><text y="0"><tspan x="0" font-style="italic">M</tspan><tspan dy="2.4" font-size="10.5">G</tspan><tspan dx="15.8" dy="-2.4">[mag]</tspan></text></g>
</svg>
</body></html>
